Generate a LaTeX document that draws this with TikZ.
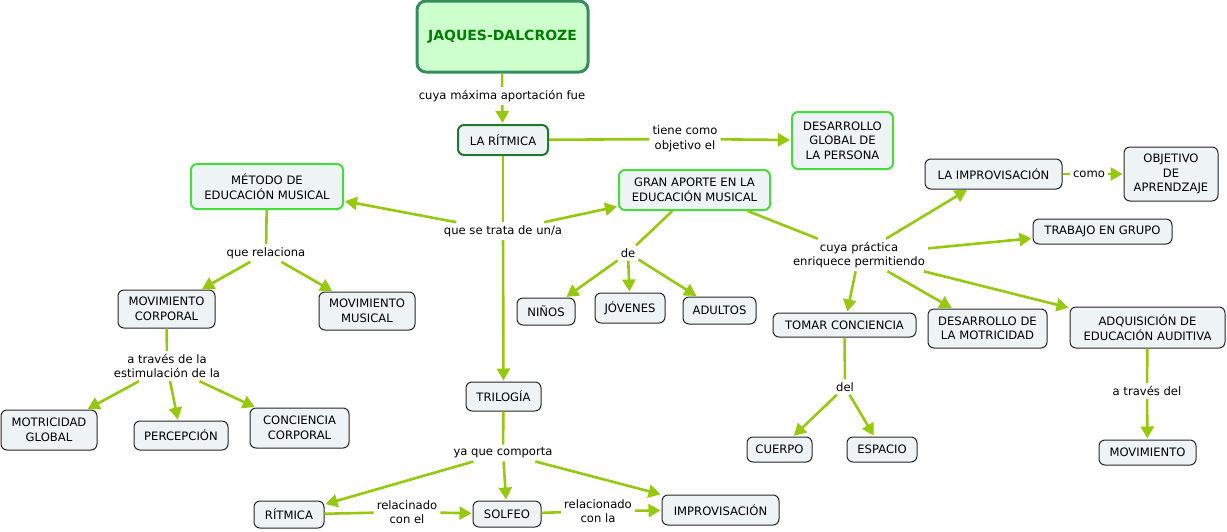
\documentclass[tikz,border=0pt]{standalone}
\usepackage{fontspec}
\setmainfont{DejaVu Sans}
\usetikzlibrary{arrows.meta}
\definecolor{linec}{RGB}{150,200,16}
\definecolor{nfill}{RGB}{238,244,246}
\definecolor{gborder}{RGB}{70,220,60}
\definecolor{dgborder}{RGB}{30,120,45}
\definecolor{tfill}{RGB}{204,255,204}
\definecolor{tborder}{RGB}{55,140,95}
\definecolor{ttext}{RGB}{0,125,0}
\newcommand{\fs}{\fontsize{11.6}{14.5}\selectfont}
\tikzset{
  box/.style={draw=black!85, line width=1pt, rounded corners=6pt, fill=nfill, align=center, font=\fs, inner sep=0pt},
  gbox/.style={box, draw=gborder, line width=2pt},
  lab/.style={align=center, font=\fs, inner sep=3pt},
  con/.style={draw=linec, line width=2.6pt},
  arr/.style={con, -{Triangle[length=12pt,width=13pt]}, shorten >=1pt},
}
\begin{document}
\begin{tikzpicture}[x=1pt,y=-1pt]
\useasboundingbox (0,0) rectangle (1227,531);
% concepts
\node[box, draw=tborder, line width=3pt, fill=tfill, text=ttext, font=\fontsize{14}{17}\selectfont\bfseries, minimum width=171, minimum height=71, rounded corners=9pt] (jd) at (502.5,36.5) {JAQUES-DALCROZE};
\node[box, draw=dgborder, line width=2pt, minimum width=90, minimum height=30] (rit) at (503,140) {LA RÍTMICA};
\node[gbox, minimum width=101, minimum height=57] (dgp) at (842.5,140.5) {DESARROLLO\\GLOBAL DE\\LA PERSONA};
\node[gbox, minimum width=152, minimum height=45] (met) at (267,186.5) {MÉTODO DE\\EDUCACIÓN MUSICAL};
\node[gbox, minimum width=151, minimum height=40] (gran) at (694.5,190) {GRAN APORTE EN LA\\EDUCACIÓN MUSICAL};
\node[box, minimum width=97, minimum height=38] (mc) at (166.5,309) {MOVIMIENTO\\CORPORAL};
\node[box, minimum width=96, minimum height=38] (mm) at (367,311) {MOVIMIENTO\\MUSICAL};
\node[box, minimum width=96, minimum height=40] (mg) at (49,430) {MOTRICIDAD\\GLOBAL};
\node[box, minimum width=94, minimum height=29] (per) at (181,435.5) {PERCEPCIÓN};
\node[box, minimum width=99, minimum height=40] (cc) at (299.5,428) {CONCIENCIA\\CORPORAL};
\node[box, minimum width=58, minimum height=27] (nin) at (546,311.5) {NIÑOS};
\node[box, minimum width=70, minimum height=30] (jov) at (630,308) {JÓVENES};
\node[box, minimum width=73, minimum height=27] (adu) at (719.5,310.5) {ADULTOS};
\node[box, minimum width=137, minimum height=30] (limp) at (993.5,174) {LA IMPROVISACIÓN};
\node[box, minimum width=94, minimum height=54] (obj) at (1171,174) {OBJETIVO\\DE\\APRENDZAJE};
\node[box, minimum width=139, minimum height=25] (tg) at (1102.5,231.5) {TRABAJO EN GRUPO};
\node[box, minimum width=143, minimum height=24] (tc) at (844.5,325) {TOMAR CONCIENCIA};
\node[box, minimum width=119, minimum height=39] (dm) at (987.5,328.5) {DESARROLLO DE\\LA MOTRICIDAD};
\node[box, minimum width=155, minimum height=41] (adq) at (1147.5,327.5) {ADQUISICIÓN DE\\EDUCACIÓN AUDITIVA};
\node[box, minimum width=65, minimum height=25] (cue) at (779.5,449.5) {CUERPO};
\node[box, minimum width=70, minimum height=25] (esp) at (882,449.5) {ESPACIO};
\node[box, minimum width=97, minimum height=25] (mov) at (1147.5,452.5) {MOVIMIENTO};
\node[box, minimum width=75, minimum height=29] (tri) at (503.5,396.5) {TRILOGÍA};
\node[box, minimum width=70, minimum height=27] (rit2) at (289,514.5) {RÍTMICA};
\node[box, minimum width=68, minimum height=26] (sol) at (507,514) {SOLFEO};
\node[box, minimum width=117, minimum height=30] (imp) at (720.5,510) {IMPROVISACIÓN};
% linking phrases
\node[lab] (l1) at (502,96) {cuya máxima aportación fue};
\node[lab] (l2) at (685,139) {tiene como\\objetivo el};
\node[lab] (l3) at (503,231) {que se trata de un/a};
\node[lab] (l4) at (266,253) {que relaciona};
\node[lab] (l5) at (167,366) {a través de la\\estimulación de la};
\node[lab] (l6) at (628,253) {de};
\node[lab] (l7) at (859,255) {cuya práctica\\enriquece permitiendo};
\node[lab] (l8) at (1089,174) {como};
\node[lab] (l9) at (845,387) {del};
\node[lab] (l10) at (1147,391) {a través del};
\node[lab] (l11) at (503,453) {ya que comporta};
\node[lab] (l12) at (407,512) {relacinado\\con el};
\node[lab] (l13) at (598,511) {relacionado\\con la};
% connectors
\draw[con] (jd) -- (l1); \draw[arr] (l1) -- (rit);
\draw[con] (rit) -- (l2); \draw[arr] (l2) -- (dgp);
\draw[con] (rit) -- (l3);
\draw[arr] (l3) -- (met); \draw[arr] (l3) -- (gran); \draw[arr] (l3) -- (tri);
\draw[con] (met) -- (l4); \draw[arr] (l4) -- (mc); \draw[arr] (l4) -- (mm);
\draw[con] (mc) -- (l5); \draw[arr] (l5) -- (mg); \draw[arr] (l5) -- (per); \draw[arr] (l5) -- (cc);
\draw[con] (gran) -- (l6); \draw[arr] (l6) -- (nin); \draw[arr] (l6) -- (jov); \draw[arr] (l6) -- (adu);
\draw[con] (gran) -- (l7);
\draw[arr] (l7) -- (limp); \draw[arr] (l7) -- (tg); \draw[arr] (l7) -- (tc); \draw[arr] (l7) -- (dm); \draw[arr] (l7) -- (adq);
\draw[con] (limp) -- (l8); \draw[arr] (l8) -- (obj);
\draw[con] (tc) -- (l9); \draw[arr] (l9) -- (cue); \draw[arr] (l9) -- (esp);
\draw[con] (adq) -- (l10); \draw[arr] (l10) -- (mov);
\draw[con] (tri) -- (l11); \draw[arr] (l11) -- (rit2); \draw[arr] (l11) -- (sol); \draw[arr] (l11) -- (imp);
\draw[con] (rit2) -- (l12); \draw[arr] (l12) -- (sol);
\draw[con] (sol) -- (l13); \draw[arr] (l13) -- (imp);
\end{tikzpicture}
\end{document}
